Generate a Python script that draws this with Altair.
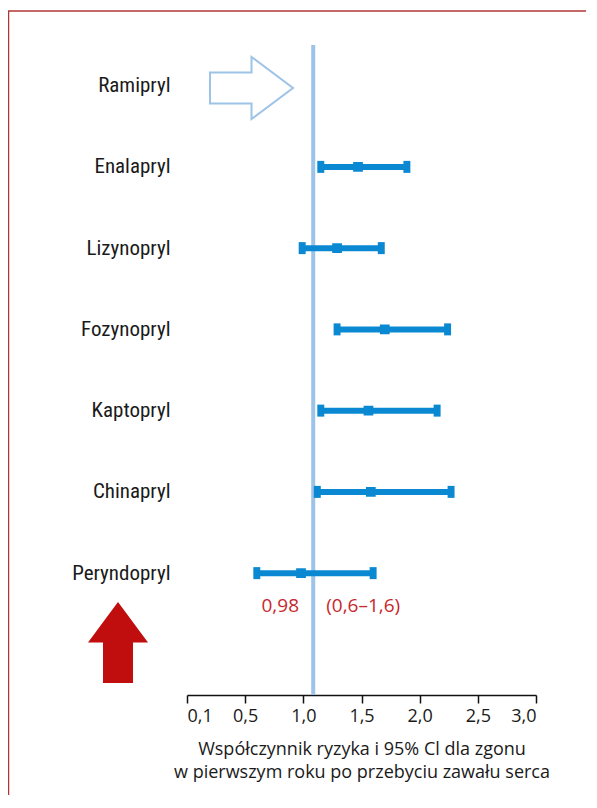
import json
import altair as alt
import pandas as pd

# ---- data ----
drugs = ["Ramipryl", "Enalapryl", "Lizynopryl", "Fozynopryl", "Kaptopryl", "Chinapryl", "Peryndopryl"]
hr_center = [None, 1.47, 1.29, 1.70, 1.56, 1.58, 0.98]
hr_lower = [None, 1.15, 0.99, 1.29, 1.15, 1.12, 0.6]
hr_upper = [None, 1.89, 1.67, 2.24, 2.15, 2.27, 1.6]
ref_value = 1.085
x_ticks = [0, 0.5, 1.0, 1.5, 2.0, 2.5, 3.0]
x_title = ["Współczynnik  ryzyka  i 95% Cl dla zgonu",
           "w pierwszym  roku po przebyciu  zawału  serca"]
highlight = "Peryndopryl"
hl_text_center = "0,98"
hl_text_ci = "(0,6–1,6)"

rows = []
for i, (d, c, lo, hi) in enumerate(zip(drugs, hr_center, hr_lower, hr_upper)):
    if c is None:
        continue
    rows.append({"drug": d, "idx": i, "center": c, "lower": lo, "upper": hi})
df = pd.DataFrame(rows)

hl_idx = drugs.index(highlight)
ann = pd.DataFrame([{"idx": hl_idx, "x": hr_center[hl_idx], "label": hl_text_center}])
ann2 = pd.DataFrame([{"idx": hl_idx, "x": ref_value, "label": hl_text_ci}])

BLUE = "#0a89d2"
LIGHT = "#9dc3e6"
RED_TXT = "#c8282d"

xscale = alt.Scale(domain=[0, 3], nice=False, zero=False)
yscale = alt.Scale(domain=[-0.5, 7.5], nice=False, zero=False, reverse=True)

names_js = json.dumps(drugs, ensure_ascii=False)

x_axis = alt.Axis(
    values=x_ticks,
    labelExpr="datum.value == 0 ? '0,1' : replace(format(datum.value, '.1f'), '.', ',')",
    grid=False, tickSize=8, tickColor="#111", domainColor="#111",
    tickWidth=1.5, domainWidth=1.5,
    labelFont="Open Sans", labelFontSize=18, labelColor="#1a1a1a", labelPadding=4,
    title=x_title, titleFont="Open Sans", titleFontSize=18, titleFontWeight="normal",
    titleColor="#1a1a1a", titlePadding=15, titleLineHeight=23,
)
y_axis = alt.Axis(
    values=list(range(len(drugs))),
    labelExpr=f"{names_js}[datum.value]",
    grid=False, ticks=False, domain=False,
    labelFont="Liberation Sans Narrow, Roboto Condensed, Liberation Sans",
    labelFontSize=21, labelFontWeight="normal", labelColor="#1a1a1a",
    labelPadding=17, title=None,
)

base = alt.Chart(df)

ref_rule = alt.Chart(pd.DataFrame({"v": [ref_value]})).mark_rule(
    color=LIGHT, strokeWidth=4
).encode(
    x=alt.X("v:Q", scale=xscale, axis=x_axis),
    y=alt.datum(-0.5, scale=yscale, axis=y_axis),
    y2=alt.datum(7.5),
)

bars = base.mark_rule(color=BLUE, strokeWidth=6).encode(
    x=alt.X("lower:Q", scale=xscale),
    x2="upper:Q",
    y=alt.Y("idx:Q", scale=yscale),
)

cap_shape = "M-0.58,-1L0.58,-1L0.58,1L-0.58,1Z"
caps_lo = base.mark_point(shape=cap_shape, size=144, filled=True, opacity=1, color=BLUE).encode(
    x=alt.X("lower:Q", scale=xscale), y=alt.Y("idx:Q", scale=yscale))
caps_hi = base.mark_point(shape=cap_shape, size=144, filled=True, opacity=1, color=BLUE).encode(
    x=alt.X("upper:Q", scale=xscale), y=alt.Y("idx:Q", scale=yscale))
centers = base.mark_square(size=95, opacity=1, color=BLUE).encode(
    x=alt.X("center:Q", scale=xscale), y=alt.Y("idx:Q", scale=yscale))

t1 = alt.Chart(ann).mark_text(
    align="right", baseline="middle", dx=-2, dy=33,
    font="Open Sans", fontSize=19, color=RED_TXT
).encode(x=alt.X("x:Q", scale=xscale), y=alt.Y("idx:Q", scale=yscale), text="label:N")
t2 = alt.Chart(ann2).mark_text(
    align="left", baseline="middle", dx=13, dy=33,
    font="Open Sans", fontSize=19, color=RED_TXT
).encode(x=alt.X("x:Q", scale=xscale), y=alt.Y("idx:Q", scale=yscale), text="label:N")

# decorations
blue_arrow_path = "M-1,-0.373L0,-0.373L0,-0.747L1,0L0,0.747L0,0.373L-1,0.373Z"
blue_arrow = alt.Chart(pd.DataFrame({"a": [0]})).mark_point(
    shape=blue_arrow_path, size=6889, filled=False, stroke=LIGHT, strokeWidth=2,
    fill="white", fillOpacity=1, opacity=1
).encode(x=alt.value(64.5), y=alt.value(43))

red_arrow_path = "M0,-1L0.741,0L0.37,0L0.37,1L-0.37,1L-0.37,0L-0.741,0Z"
red_arrow = alt.Chart(pd.DataFrame({"a": [0]})).mark_point(
    shape=red_arrow_path, size=6561, filled=True, color="#c00d0d", opacity=1
).encode(x=alt.value(-69), y=alt.value(597.5))

border_top = alt.Chart(pd.DataFrame({"a": [0]})).mark_rule(color="#b03535", strokeWidth=1.5).encode(
    x=alt.value(-179), x2=alt.value(430), y=alt.value(-34))
border_left = alt.Chart(pd.DataFrame({"a": [0]})).mark_rule(color="#b03535", strokeWidth=1.5).encode(
    x=alt.value(-178.5), y=alt.value(-34), y2=alt.value(800))

chart = alt.layer(
    border_top, border_left, blue_arrow, red_arrow, ref_rule, bars, caps_lo, caps_hi, centers, t1, t2
).properties(
    width=349, height=650,
    padding={"left": 179, "top": 37, "right": 50, "bottom": 100},
    autosize=alt.AutoSizeParams(type="none"),
    background="white",
).configure_view(stroke=None)

chart.save("out.html", embed_options={"renderer": "svg", "actions": False})
